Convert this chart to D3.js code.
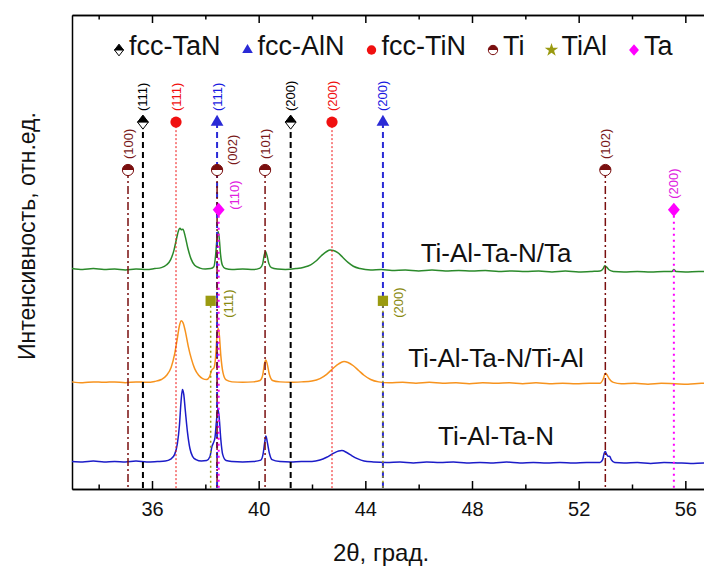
<!DOCTYPE html>
<html>
<head>
<meta charset="utf-8"/>
<script src="https://cdn.jsdelivr.net/npm/d3@7"></script>
<style>
	body { margin: 0; background: #fff; }
	svg { display: block; font-family: Arial, "Liberation Sans", sans-serif; }
	.frame path, .frame line { stroke: #000; stroke-width: 1.5; }
</style>
</head>
<body>
<svg id="chart" width="704" height="566"></svg>
<script>
// --- data ---
var sampleNames = ["Ti-Al-Ta-N/Ta", "Ti-Al-Ta-N/Ti-Al", "Ti-Al-Ta-N"];

// [2theta, intensity (a.u., stacked)]
var specTa = [[33.0,46.5],[33.4,46.3],[33.8,46.5],[34.2,46.3],[34.6,46.4],[35.0,46.2],[35.4,46.4],[35.8,46.3],[36.1,46.5],[36.35,46.7],[36.55,47.3],[36.7,48.4],[36.82,50.3],[36.92,52.8],[37.0,54.6],[37.05,55.0],[37.1,54.7],[37.16,54.8],[37.24,53.4],[37.34,50.9],[37.46,48.6],[37.6,47.2],[37.8,46.6],[38.0,46.4],[38.2,46.5],[38.32,46.9],[38.38,49.0],[38.44,53.0],[38.48,54.3],[38.52,53.0],[38.57,49.5],[38.64,47.2],[38.75,46.5],[39.0,46.3],[39.4,46.4],[39.8,46.3],[40.05,46.6],[40.15,47.5],[40.21,49.4],[40.26,50.1],[40.31,49.3],[40.38,47.6],[40.48,46.7],[40.7,46.4],[41.0,46.3],[41.4,46.5],[41.7,46.8],[41.95,47.3],[42.15,48.1],[42.35,49.2],[42.55,50.1],[42.68,50.4],[42.8,50.3],[42.95,49.9],[43.15,48.9],[43.35,47.8],[43.55,47.0],[43.8,46.5],[44.2,46.2],[44.6,46.3],[45.0,46.1],[45.5,46.2],[46.0,46.0],[46.5,46.2],[47.0,46.0],[47.5,46.1],[48.0,46.0],[48.5,46.1],[49.0,45.9],[49.5,46.0],[50.0,45.9],[50.5,46.0],[51.0,45.8],[51.5,46.0],[52.0,45.8],[52.5,45.9],[52.8,46.0],[52.92,46.5],[52.98,47.1],[53.05,46.8],[53.15,46.2],[53.3,45.9],[53.7,45.8],[54.2,45.9],[54.7,45.8],[55.2,45.9],[55.5,45.9],[55.57,46.3],[55.65,45.9],[56.0,45.8],[56.5,45.9],[57.0,45.8]];
var specTiAl = [[33.0,22.6],[33.4,22.4],[33.8,22.6],[34.2,22.5],[34.6,22.6],[35.0,22.4],[35.4,22.6],[35.8,22.5],[36.1,22.7],[36.35,23.1],[36.55,24.0],[36.72,25.7],[36.85,28.5],[36.95,31.8],[37.03,34.5],[37.1,35.5],[37.17,35.0],[37.26,33.0],[37.36,30.1],[37.48,27.4],[37.6,25.4],[37.75,24.0],[37.9,23.3],[38.05,23.1],[38.15,23.6],[38.25,25.2],[38.32,25.5],[38.38,27.5],[38.44,32.5],[38.48,33.9],[38.52,32.8],[38.58,28.2],[38.66,24.6],[38.78,23.0],[39.0,22.6],[39.4,22.5],[39.8,22.6],[40.05,22.9],[40.15,24.0],[40.22,26.5],[40.27,27.2],[40.32,26.4],[40.4,24.2],[40.52,22.9],[40.8,22.6],[41.2,22.5],[41.6,22.6],[42.0,22.8],[42.3,23.3],[42.55,24.2],[42.8,25.5],[43.0,26.4],[43.2,26.9],[43.35,26.7],[43.55,26.0],[43.75,25.0],[43.95,24.0],[44.2,23.1],[44.5,22.6],[44.9,22.4],[45.4,22.5],[45.9,22.3],[46.4,22.5],[46.9,22.3],[47.4,22.4],[47.9,22.2],[48.4,22.4],[48.9,22.3],[49.4,22.4],[49.9,22.2],[50.4,22.4],[50.9,22.2],[51.4,22.3],[51.9,22.2],[52.4,22.3],[52.8,22.3],[52.92,23.2],[53.0,24.4],[53.06,24.1],[53.15,23.2],[53.3,22.5],[53.6,22.2],[54.1,22.3],[54.6,22.1],[55.1,22.3],[55.6,22.2],[56.1,22.1],[56.6,22.3],[57.0,22.2]];
var specBase = [[33.0,5.8],[33.4,5.7],[33.8,5.9],[34.2,5.7],[34.6,5.8],[35.0,5.7],[35.4,5.9],[35.8,5.7],[36.2,5.8],[36.5,5.9],[36.7,6.3],[36.85,7.3],[36.95,9.5],[37.03,13.5],[37.09,18.5],[37.14,21.0],[37.19,20.0],[37.25,16.5],[37.33,12.0],[37.42,8.6],[37.52,6.9],[37.65,6.2],[37.85,5.9],[38.05,6.0],[38.17,6.8],[38.25,9.0],[38.3,9.7],[38.36,10.8],[38.42,14.5],[38.47,17.0],[38.52,15.0],[38.58,10.5],[38.65,7.3],[38.78,6.0],[39.0,5.8],[39.4,5.7],[39.8,5.8],[40.08,6.1],[40.17,7.5],[40.23,10.0],[40.27,11.2],[40.32,10.0],[40.4,7.6],[40.5,6.2],[40.8,5.8],[41.2,5.7],[41.6,5.8],[42.0,5.8],[42.3,6.1],[42.55,6.7],[42.8,7.5],[43.0,8.0],[43.12,8.1],[43.3,7.7],[43.5,7.0],[43.7,6.4],[43.95,5.9],[44.3,5.7],[44.8,5.6],[45.3,5.7],[45.8,5.5],[46.3,5.7],[46.8,5.6],[47.3,5.7],[47.8,5.5],[48.3,5.6],[48.8,5.5],[49.3,5.7],[49.8,5.5],[50.3,5.6],[50.8,5.5],[51.3,5.6],[51.8,5.5],[52.3,5.6],[52.8,5.6],[52.9,6.2],[52.96,7.6],[53.0,7.9],[53.05,7.3],[53.1,6.9],[53.16,6.9],[53.22,6.2],[53.35,5.6],[53.7,5.5],[54.2,5.6],[54.7,5.4],[55.2,5.6],[55.7,5.5],[56.2,5.4],[56.7,5.5],[57.0,5.5]];
var spectra = [specTa, specTiAl, specBase];

// reference peak positions [hkl, 2theta]
var phaseNames = ["fcc-TaN", "fcc-AlN", "fcc-TiN", "Ti", "TiAl", "Ta"];
var peaksTaN = [["(111)", 35.66], ["(200)", 41.2]];
var peaksAlN = [["(111)", 38.44], ["(200)", 44.66]];
var peaksTiN = [["(111)", 36.9], ["(200)", 42.75]];
var peaksTi = [["(100)", 35.1], ["(002)", 38.44], ["(101)", 40.24], ["(102)", 53.0]];
var peaksTiAl = [["(111)", 38.2], ["(200)", 44.66]];
var peaksTa = [["(110)", 38.5], ["(200)", 55.57]];
var phasePeaks = [peaksTaN, peaksAlN, peaksTiN, peaksTi, peaksTiAl, peaksTa];

var majorTicks = [36, 40, 44, 48, 52, 56];
var minorTicks = [34, 38, 42, 46, 50, 54];

// --- layout / style ---
var svg = d3.select('#chart');
var x = d3.scaleLinear().domain([33, 57]).range([72, 712]);
var y = d3.scaleLinear().domain([0, 100]).range([489, 15]);

var sampleColors = ["#2b8a2b", "#f7931e", "#1c1cc8"];
var sampleLabelY = [47.9, 25.7, 9.3];  // label baselines
var phaseStyle = {
	"fcc-TaN": {color: "#000", text: "#000", dash: "6,4", width: 2, level: 77.4, mark: "halfdiamond"},
	"fcc-AlN": {color: "#2a2ad6", text: "#1a1ae0", dash: "6,4", width: 2, level: 77.4, mark: "triangle"},
	"fcc-TiN": {color: "#f01010", text: "#f01010", dash: "2,2", width: 1, level: 77.4, mark: "circle"},
	"Ti":      {color: "#7a0f0f", text: "#7a1a1a", dash: "8,3,2,3", width: 1.5, level: 67.3, mark: "halfcircle"},
	"TiAl":    {color: "#9a9a10", text: "#8a8a10", dash: "2,3", width: 1.5, level: 39.7, mark: "square"},
	"Ta":      {color: "#ff00ff", text: "#e020e0", dash: "2,4", width: 2, level: 58.9, mark: "diamond"}
};
// labels that sit beside the marker instead of above it: [dx, dy]
var besideLabel = {"Ti(002)": [15, -5], "Ta(110)": [16, 0], "TiAl(111)": [18, 17], "TiAl(200)": [16, 17]};

function marker(g, kind, color, s) {
	s = s || 1;
	if (kind === "halfdiamond") {
		var w = 5*s, h = 6.5*s;
		g.append('path').attr('d', `M${-w},0L0,${-h}L${w},0Z`).attr('fill', color).attr('stroke', color).attr('stroke-width', 1);
		g.append('path').attr('d', `M${-w},0L0,${h}L${w},0Z`).attr('fill', '#fff').attr('stroke', color).attr('stroke-width', 1);
	} else if (kind === "halfcircle") {
		var r = 5.2*s;
		g.append('path').attr('d', d3.arc()({innerRadius: 0, outerRadius: r, startAngle: -Math.PI/2, endAngle: Math.PI/2})).attr('fill', color);
		g.append('path').attr('d', d3.arc()({innerRadius: 0, outerRadius: r, startAngle: Math.PI/2, endAngle: 3*Math.PI/2})).attr('fill', '#fff');
		g.append('circle').attr('r', r).attr('fill', 'none').attr('stroke', color).attr('stroke-width', 1);
	} else if (kind === "diamond") {
		var w2 = 5.5*s, h2 = 6.5*s;
		g.append('path').attr('d', `M0,${-h2}L${w2},0L0,${h2}L${-w2},0Z`).attr('fill', color);
	} else {
		var sym = {triangle: d3.symbolTriangle, circle: d3.symbolCircle, square: d3.symbolSquare, star: d3.symbolStar}[kind];
		var size = {triangle: 60, circle: 85, square: 90, star: 70}[kind];
		g.append('path').attr('d', d3.symbol(sym, size*s*s)()).attr('fill', color);
	}
}

// frame
var bottom = svg.append('g').attr('class', 'frame').attr('transform', `translate(0,${y(0)})`)
	.call(d3.axisBottom(x).tickValues(majorTicks).tickSizeInner(-8).tickSizeOuter(0).tickPadding(13).tickFormat(d3.format('d')));
bottom.selectAll('text').attr('font-size', 20).attr('fill', '#111').attr('font-family', 'Arial, "Liberation Sans", sans-serif');
svg.append('g').attr('class', 'frame').attr('transform', `translate(0,${y(0)})`)
	.call(d3.axisBottom(x).tickValues(minorTicks).tickSizeInner(-4.5).tickSizeOuter(0).tickFormat(''));
svg.append('g').attr('class', 'frame').attr('transform', `translate(0,${y(100)})`)
	.call(d3.axisTop(x).tickValues(majorTicks).tickSizeInner(-8).tickSizeOuter(0).tickFormat(''));
svg.append('g').attr('class', 'frame').attr('transform', `translate(0,${y(100)})`)
	.call(d3.axisTop(x).tickValues(minorTicks).tickSizeInner(-4.5).tickSizeOuter(0).tickFormat(''));
svg.append('g').attr('class', 'frame').attr('transform', `translate(${x(33)},0)`)
	.call(d3.axisLeft(y).tickValues([]).tickSizeOuter(0));

// spectra
var line = d3.line().curve(d3.curveMonotoneX).x(d => x(d[0])).y(d => y(d[1]));
spectra.forEach(function(s, i) {
	svg.append('path').attr('d', line(s)).attr('fill', 'none')
		.attr('stroke', sampleColors[i]).attr('stroke-width', 1.5).attr('stroke-linejoin', 'round');
	svg.append('text').attr('x', x(48.9)).attr('y', y(sampleLabelY[i]))
		.attr('text-anchor', 'middle').attr('font-size', 26).attr('fill', '#111').text(sampleNames[i]);
});

// reference lines, markers, hkl labels
phaseNames.forEach(function(name, i) {
	var st = phaseStyle[name];
	phasePeaks[i].forEach(function(p) {
		var px = x(p[1]), py = y(st.level);
		svg.append('line').attr('x1', px).attr('x2', px).attr('y1', py).attr('y2', y(0))
			.attr('stroke', st.color).attr('stroke-width', st.width).attr('stroke-dasharray', st.dash);
		marker(svg.append('g').attr('transform', `translate(${px},${py})`), st.mark, st.color, 1.08);
		var off = besideLabel[name + p[0]] || [0, -11];
		svg.append('text').attr('transform', `translate(${px + off[0]},${py + off[1]}) rotate(-90)`)
			.attr('dy', '0.35em').attr('font-size', 13).attr('fill', st.text).text(p[0]);
	});
});

// legend
var legendMarks = {"fcc-TaN": "halfdiamond", "fcc-AlN": "triangle", "fcc-TiN": "circle", "Ti": "halfcircle", "TiAl": "star", "Ta": "diamond"};
var lx = 119;
phaseNames.forEach(function(name) {
	var st = phaseStyle[name];
	marker(svg.append('g').attr('transform', `translate(${lx},50)`), legendMarks[name], st.color, 0.9);
	var t = svg.append('text').attr('x', lx + 10).attr('y', 55).attr('font-size', 27).attr('fill', '#111').text(name);
	lx += 10 + t.node().getComputedTextLength() + 27;
});

// axis titles
svg.append('text').attr('x', 381).attr('y', 561).attr('text-anchor', 'middle').attr('font-size', 24).attr('fill', '#111').text('2θ, град.');
svg.append('text').attr('transform', 'translate(35,236) rotate(-90)').attr('text-anchor', 'middle')
	.attr('font-size', 23).attr('fill', '#111').text('Интенсивность, отн.ед.');
</script>
</body>
</html>
